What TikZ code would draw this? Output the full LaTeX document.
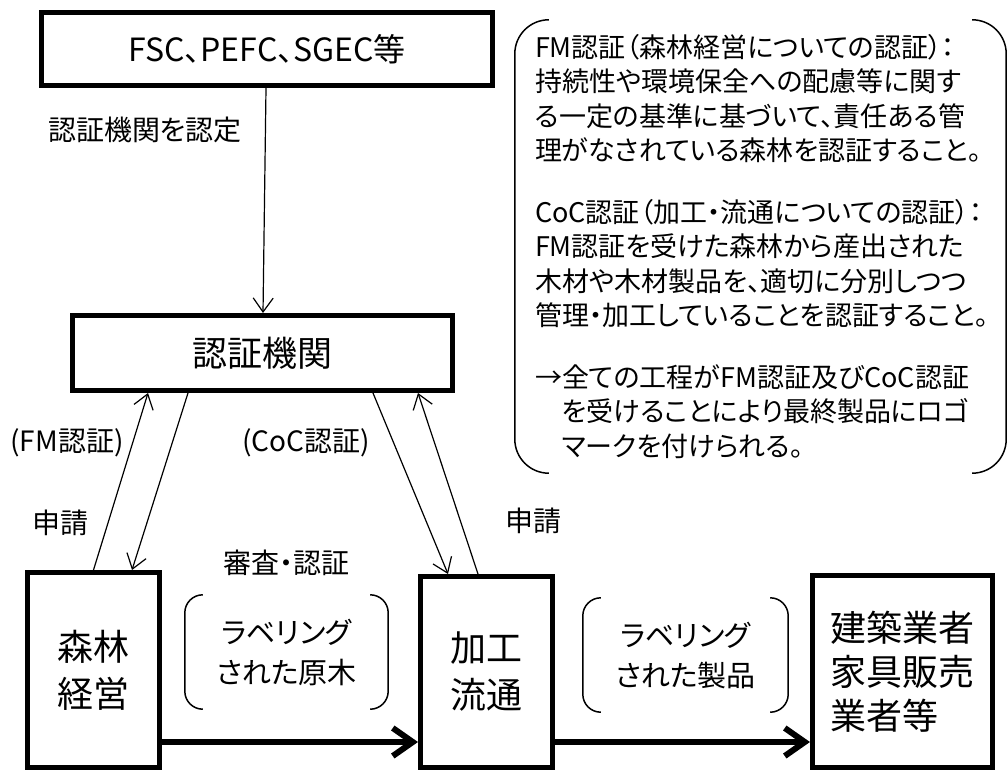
\documentclass[tikz,border=0pt]{standalone}
\usepackage{fontspec}
\setmainfont{Noto Sans CJK JP}[RawFeature=+palt]
\usetikzlibrary{arrows.meta}

\begin{document}
\begin{tikzpicture}[x=1pt, y=-1pt,
        caja/.style={draw, line width=5pt, align=center, inner sep=0pt},
        flecha/.style={line width=1.2pt, -{Straight Barb[length=14pt,width=20pt]}},
        flechagruesa/.style={line width=6pt, -{Straight Barb[length=20pt,width=28pt]}},
        etiqueta/.style={font=\fontsize{28}{34}\selectfont},
        parentesis/.style={line width=1.5pt}]
        \useasboundingbox (0,0) rectangle (1008,773);

        % Cajas principales
        \node[caja, minimum width=451pt, minimum height=73pt, font=\fontsize{32}{38}\selectfont] (fsc) at (267,49) {FSC、PEFC、SGEC等};
        \node[caja, minimum width=380pt, minimum height=75pt, font=\fontsize{35}{42}\selectfont] (kikan) at (262.5,353) {認証機関};
        \node[caja, minimum width=132pt, minimum height=195pt, font=\fontsize{36}{47}\selectfont] (shinrin) at (93.5,670) {森林\\経営};
        \node[caja, minimum width=132pt, minimum height=191pt, font=\fontsize{36}{47}\selectfont] (kakou) at (486.5,672) {加工\\流通};
        \node[caja, align=left, minimum width=180pt, minimum height=192pt, font=\fontsize{36}{44}\selectfont] (kenchiku) at (902.5,671.5) {建築業者\\家具販売\\業者等};

        % Etiquetas de las flechas
        \node[etiqueta] (nintei) at (145,130) {認証機関を認定};
        \node[etiqueta] (fmlbl) at (67,443) {(FM認証)};
        \node[etiqueta] (coclbl) at (306,443) {(CoC認証)};
        \node[etiqueta] (shinsei1) at (60,523) {申請};
        \node[etiqueta] (shinsei2) at (533,521) {申請};
        \node[etiqueta] (shinsa) at (286,563) {審査・認証};

        % Productos etiquetados entre paréntesis
        \node[etiqueta, align=center, font=\fontsize{29}{40}\selectfont, minimum width=203pt, minimum height=114pt] (etq1) at (286.5,652) {ラベリング\\された原木};
        \node[etiqueta, align=center, font=\fontsize{29}{40}\selectfont, minimum width=205pt, minimum height=114pt] (etq2) at (685.5,655) {ラベリング\\された製品};
        \foreach \n in {etq1,etq2} {
            \draw[parentesis, rounded corners=18pt] ([xshift=18pt]\n.north west) -- (\n.north west) -- (\n.south west) -- ([xshift=18pt]\n.south west);
            \draw[parentesis, rounded corners=18pt] ([xshift=-18pt]\n.north east) -- (\n.north east) -- (\n.south east) -- ([xshift=-18pt]\n.south east);
        }

        % Nota explicativa
        \node[minimum width=491pt, minimum height=453pt, inner sep=0pt] (marco) at (760.5,246.5) {};
        \draw[parentesis, rounded corners=34pt] ([xshift=34pt]marco.north west) -- (marco.north west) -- (marco.south west) -- ([xshift=34pt]marco.south west);
        \draw[parentesis, rounded corners=34pt] ([xshift=-34pt]marco.north east) -- (marco.north east) -- (marco.south east) -- ([xshift=-34pt]marco.south east);
        \node[etiqueta, align=left, anchor=west, inner sep=0pt, font=\fontsize{27}{34.5}\selectfont] (nota) at ([xshift=20pt]marco.west) {%
            FM認証（森林経営についての認証）：\\
            持続性や環境保全への配慮等に関す\\
            る一定の基準に基づいて、責任ある管\\
            理がなされている森林を認証すること。\\[27pt]
            CoC認証（加工・流通についての認証）：\\
            FM認証を受けた森林から産出された\\
            木材や木材製品を、適切に分別しつつ\\
            管理・加工していることを認証すること。\\[27pt]
            →全ての工程がFM認証及びCoC認証\\
            \phantom{→}を受けることにより最終製品にロゴ\\
            \phantom{→}マークを付けられる。};

        % Flechas finas
        \draw[flecha] ([xshift=-1pt]fsc.south) -- ([xshift=0.5pt]kikan.north);
        \draw[flecha] (shinrin.north) -- ([xshift=78pt]kikan.south west);
        \draw[flecha] ([xshift=118pt]kikan.south west) -- ([xshift=-30pt]shinrin.north east);
        \draw[flecha] ([xshift=-82pt]kikan.south east) -- ([xshift=30pt]kakou.north west);
        \draw[flecha] ([xshift=60pt]kakou.north west) -- ([xshift=-37pt]kikan.south east);

        % Flechas gruesas
        \draw[flechagruesa] ([yshift=-72pt]shinrin.east) -- ([yshift=-72pt]shinrin.east -| kakou.west);
        \draw[flechagruesa] ([yshift=-70pt]kakou.east) -- ([yshift=-70pt]kakou.east -| kenchiku.west);

    \end{tikzpicture}
\end{document}
